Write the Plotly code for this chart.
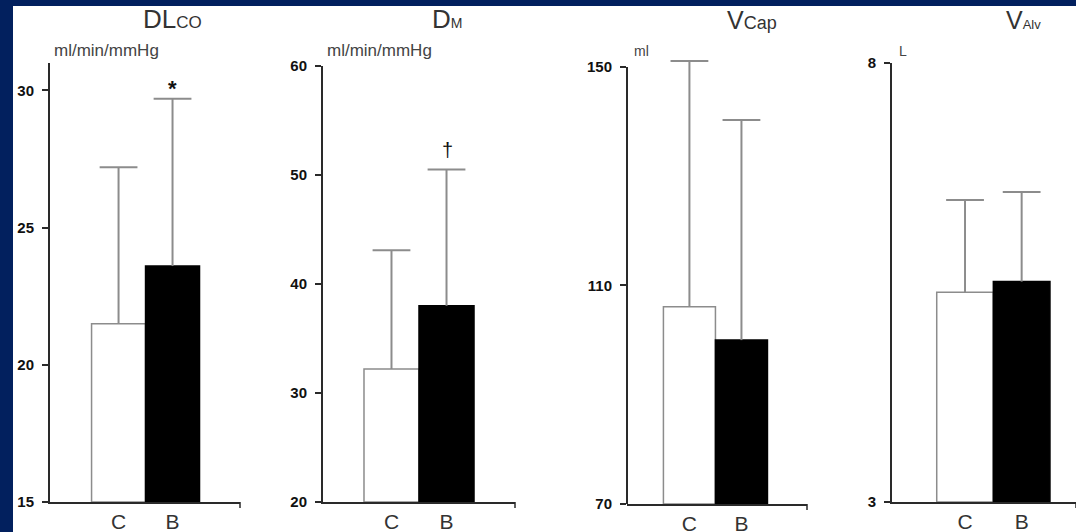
import plotly.graph_objects as go

W, H = 1076, 532

categories = ["C", "B"]
dlco_mean = [21.5, 23.6]
dlco_sd = [5.7, 6.1]
dm_mean = [32.2, 38.0]
dm_sd = [10.9, 12.5]
vcap_mean = [106.1, 100.0]
vcap_sd = [45.0, 40.3]
valv_mean = [5.39, 5.51]
valv_sd = [1.05, 1.02]

dlco_ticks = [15, 20, 25, 30]
dm_ticks = [20, 30, 40, 50, 60]
vcap_ticks = [70, 110, 150]
valv_ticks = [3, 8]

panels = [
    dict(mean=dlco_mean, sd=dlco_sd, ticks=dlco_ticks, yr=[15, 31], xpx=[50, 240], ypx=[63, 502], xr=[-1.27, 2.25]),
    dict(mean=dm_mean, sd=dm_sd, ticks=dm_ticks, yr=[20, 60], xpx=[323, 515], ypx=[66, 502], xr=[-1.245, 2.245]),
    dict(mean=vcap_mean, sd=vcap_sd, ticks=vcap_ticks, yr=[70, 152], xpx=[627, 807], ypx=[56, 504], xr=[-1.20, 2.26]),
    dict(mean=valv_mean, sd=valv_sd, ticks=valv_ticks, yr=[3, 8], xpx=[892, 1076], ypx=[63, 502], xr=[-1.29, 1.96]),
]

FONT = "Liberation Sans, Arial, sans-serif"
AXC = "#2a2a2a"
ERRC = "#8c8c8c"

fig = go.Figure()
layout = dict(
    width=W, height=H, margin=dict(l=0, r=0, t=0, b=0, pad=0), autosize=False,
    paper_bgcolor="white", plot_bgcolor="rgba(0,0,0,0)", showlegend=False,
    font=dict(family=FONT),
)
shapes = []
xpos = list(range(len(categories)))

for i, p in enumerate(panels):
    n = "" if i == 0 else str(i + 1)
    base = p["yr"][0]
    fig.add_trace(go.Bar(
        x=xpos, y=[m - base for m in p["mean"]], base=base, width=1.0,
        marker=dict(color=["white", "black"], line=dict(color=[ERRC, "black"], width=1.5)),
        xaxis="x" + n, yaxis="y" + n,
    ))
    tops = [m + s for m, s in zip(p["mean"], p["sd"])]
    fig.add_trace(go.Scatter(
        x=xpos, y=tops, mode="markers",
        marker=dict(symbol="line-ew", size=27, color=ERRC, line=dict(color=ERRC, width=2)),
        error_y=dict(type="data", symmetric=False, array=[0, 0], arrayminus=p["sd"],
                     color=ERRC, thickness=2, width=0),
        xaxis="x" + n, yaxis="y" + n, cliponaxis=False, hoverinfo="skip",
    ))
    x0, x1 = p["xpx"]
    yt, yb = p["ypx"]
    layout["xaxis" + n] = dict(
        domain=[x0 / W, min(x1 / W, 1)], range=p["xr"], anchor="y" + n, automargin=False,
        showline=True, linecolor=AXC, linewidth=2, showgrid=False, zeroline=False,
        tickvals=xpos, ticktext=categories, ticks="", ticklabelstandoff=0,
        tickfont=dict(size=21, color="#333", family=FONT), fixedrange=True,
    )
    layout["yaxis" + n] = dict(
        domain=[(H - yb) / H, (H - yt) / H], range=p["yr"], anchor="x" + n, automargin=False,
        showline=(i != 2), linecolor=AXC, linewidth=2, showgrid=False, zeroline=False,
        tickvals=p["ticks"], ticks="outside", ticklen=6, tickcolor=AXC, tickwidth=1.5,
        ticklabelstandoff=5,
        tickfont=dict(size=15, color="#111", family="Liberation Sans, Arial", weight="bold"),
        fixedrange=True,
    )
    shapes.append(dict(type="line", xref="x" + n + " domain", yref="y" + n + " domain",
                       x0=1, x1=1, y0=0, y1=-6 / (yb - yt), line=dict(color=AXC, width=1.5)))
    if i == 2:
        shapes.append(dict(type="line", xref="x3 domain", yref="y3",
                           x0=0, x1=0, y0=p["yr"][0], y1=p["ticks"][-1],
                           line=dict(color=AXC, width=2)))

shapes.append(dict(type="rect", xref="paper", yref="paper", x0=0, x1=1, y0=(H - 6) / H, y1=1,
                   fillcolor="#02205e", line=dict(width=0), layer="above"))
shapes.append(dict(type="rect", xref="paper", yref="paper", x0=0, x1=13 / W, y0=0, y1=1,
                   fillcolor="#02205e", line=dict(width=0), layer="above"))
layout["shapes"] = shapes

def ann(text, xpx, ypx, size, color="#333", xanchor="center", bold=False):
    return dict(text=text, x=xpx / W, y=(H - ypx) / H, xref="paper", yref="paper",
                xanchor=xanchor, yanchor="middle", showarrow=False,
                font=dict(size=size, color=color, family=FONT, weight="bold" if bold else "normal"))

annotations = [
    ann("DL<span style='font-size:17px'>CO</span>", 172, 19, 26),
    ann("D<span style='font-size:14px'>M</span>", 447, 19, 26),
    ann("V<span style='font-size:18px'>Cap</span>", 752, 20, 25),
    ann("V<span style='font-size:13px'>Alv</span>", 1023, 20, 25),
    ann("ml/min/mmHg", 52, 51, 17, "#444", "left"),
    ann("ml/min/mmHg", 325, 50, 17, "#444", "left"),
    ann("ml", 632, 51, 14, "#444", "left"),
    ann("L", 897, 51, 14, "#444", "left"),
    ann("*", 172, 88, 22, "#111", bold=True),
    ann("†", 447, 150, 20, "#111"),
]
layout["annotations"] = annotations

fig.update_layout(**layout)
js = """
document.body.style.margin='0';document.body.style.overflow='hidden';
"""
fig.write_html("out.html", config={"responsive": False, "displayModeBar": False}, post_script=js)
